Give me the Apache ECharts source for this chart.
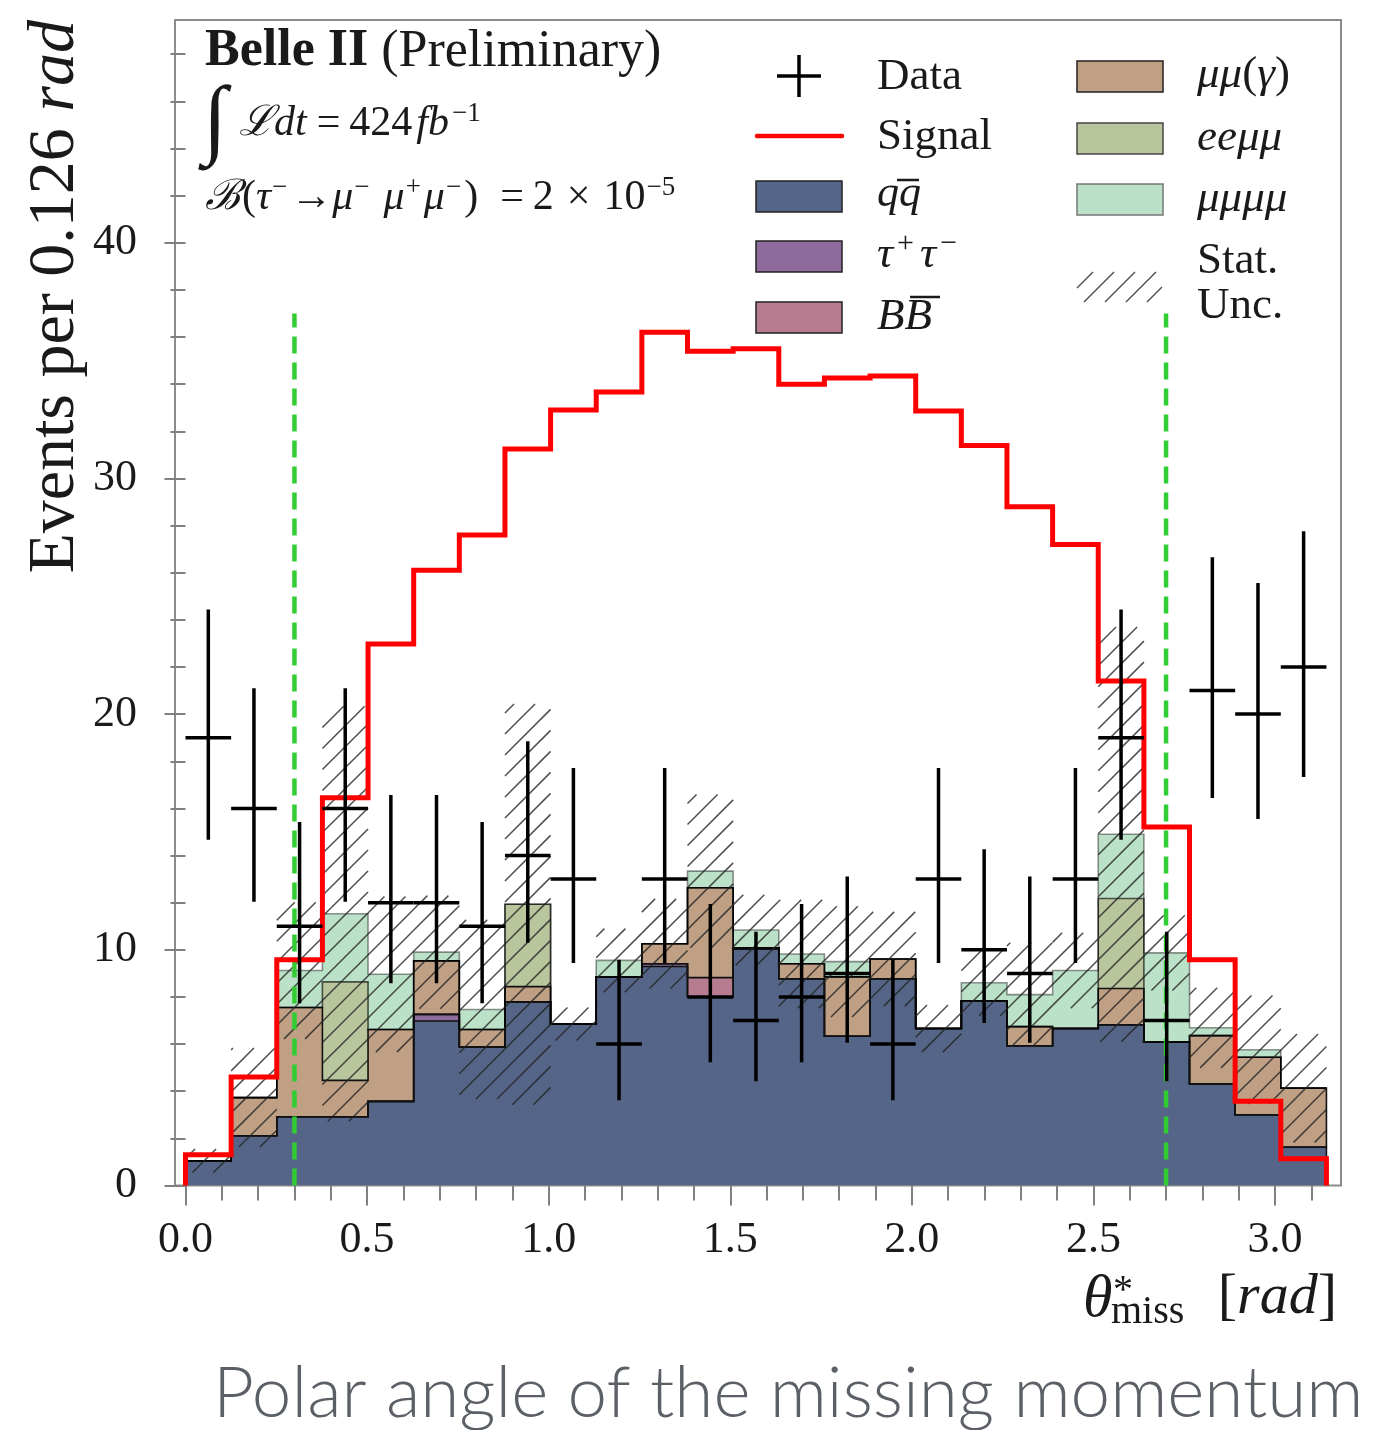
<!DOCTYPE html>
<html>
<head>
<meta charset="utf-8">
<script src="https://cdn.jsdelivr.net/npm/echarts@6/dist/echarts.min.js"></script>
<style>
  html, body { margin: 0; padding: 0; background: #ffffff; }
  #chart { width: 1373px; height: 1430px; }
</style>
</head>
<body>
<div id="chart"></div>
<script>
// ---- binning: 25 equal bins of theta*_miss over [0, pi] ----
const BIN_COUNT = 25;
const BIN_RANGE = [0, Math.PI];

// ---- stacked background expectations (events per bin) ----
const qqbar     = [1.05, 2.11, 2.92, 2.92, 3.57, 6.98, 5.88, 7.79, 6.85, 8.85, 9.29, 8.00, 10.03, 8.77, 6.33, 8.77, 6.66, 7.84, 5.93, 6.66, 6.82, 6.09, 4.30, 3.00, 1.62];
const tautau    = [0, 0, 0, 0, 0, 0.28, 0, 0, 0, 0, 0.12, 0, 0.06, 0, 0, 0, 0, 0, 0, 0, 0, 0, 0, 0, 0];
const bbbar     = [0, 0, 0, 0, 0, 0, 0, 0, 0, 0, 0, 0.82, 0, 0, 0, 0, 0, 0, 0, 0, 0, 0, 0, 0, 0];
const mumugamma = [0, 1.62, 4.63, 1.54, 3.05, 2.27, 0.74, 0.65, 0, 0, 0.85, 3.81, 0, 0.64, 2.52, 0.84, 0, 0, 0.81, 0, 1.54, 0, 2.06, 2.44, 2.51];
const eemumu    = [0, 0, 0, 4.18, 0, 0, 0, 3.49, 0, 0, 0, 0, 0, 0, 0, 0, 0, 0, 0, 0, 3.82, 0, 0, 0, 0];
const mumumumu  = [0, 0, 1.57, 2.89, 2.34, 0.37, 0.85, 0, 0, 0.70, 0, 0.71, 0.75, 0.41, 0.65, 0, 0, 0.76, 1.36, 2.46, 2.72, 3.78, 0.33, 0.32, 0];

// statistical uncertainty on the summed background
const statUnc   = [0.5, 2.1, 2.9, 8.8, 3.3, 2.4, 3.8, 8.5, 0.7, 1.35, 1.9, 3.25, 1.5, 2.3, 2.35, 2.0, 1.0, 1.4, 2.2, 1.6, 8.8, 1.6, 1.7, 2.3, 2.3];

// signal for B(tau -> 3mu) = 2e-5
const signal    = [1.30, 4.60, 9.58, 16.45, 22.97, 26.1, 27.6, 31.25, 32.9, 33.67, 36.2, 35.4, 35.5, 34.0, 34.26, 34.35, 32.86, 31.4, 28.8, 27.2, 21.4, 15.21, 9.58, 3.57, 1.13];

// observed data with asymmetric Poisson errors
const dataCounts  = [19, 16, 11, 16, 12, 12, 11, 14, 13, 6, 13, 8, 7, 8, 9, 6, 13, 10, 9, 13, 19, 7, 21, 20, 22];
const dataErrLow  = [4.33, 3.96, 3.27, 3.96, 3.42, 3.42, 3.27, 3.70, 3.56, 2.38, 3.56, 2.77, 2.58, 2.77, 2.94, 2.38, 3.56, 3.11, 2.94, 3.56, 4.33, 2.58, 4.56, 4.45, 4.67];
const dataErrHigh = [5.44, 5.10, 4.42, 5.10, 4.57, 4.57, 4.42, 4.85, 4.71, 3.58, 4.71, 3.94, 3.77, 3.94, 4.11, 3.58, 4.71, 4.27, 4.11, 4.71, 5.44, 3.77, 5.66, 5.56, 5.76];

// selection window on theta*_miss
const cutValues = [0.3, 2.7];
const cutTop = 37;

// ---- axis ticks ----
const xMajorTicks = [0, 0.5, 1.0, 1.5, 2.0, 2.5, 3.0];
const xTickLabels = ['0.0', '0.5', '1.0', '1.5', '2.0', '2.5', '3.0'];
const xMinorTicks = [0.1, 0.2, 0.3, 0.4, 0.6, 0.7, 0.8, 0.9, 1.1, 1.2, 1.3, 1.4, 1.6, 1.7, 1.8, 1.9, 2.1, 2.2, 2.3, 2.4, 2.6, 2.7, 2.8, 2.9, 3.1];
const yMajorTicks = [0, 10, 20, 30, 40];
const yTickLabels = ['0', '10', '20', '30', '40'];
const yMinorTicks = [2, 4, 6, 8, 12, 14, 16, 18, 22, 24, 26, 28, 32, 34, 36, 38, 42, 44, 46, 48];

const X_MIN = -0.0289, X_MAX = 3.1817;
const Y_MIN = 0, Y_MAX = 49.45;

const SERIF = "'Liberation Serif', 'DejaVu Serif', serif";
const COLORS = {
  qq: '#546587', tautau: '#8e6a9d', bb: '#b87c90',
  mumug: '#bfa084', eemumu: '#b9c69d', mumumumu: '#bbe2c8'
};

const binEdges = Array.from({ length: BIN_COUNT + 1 },
  (_, i) => BIN_RANGE[0] + i * (BIN_RANGE[1] - BIN_RANGE[0]) / BIN_COUNT);

// histogram values -> corner points of a step outline
function stepPts(values) {
  const pts = [];
  values.forEach((v, i) => { pts.push([binEdges[i], v]); pts.push([binEdges[i + 1], v]); });
  return pts;
}
// histogram values -> points for an ECharts step:'end' line
function stepData(values) {
  const pts = values.map((v, i) => [binEdges[i], v]);
  pts.push([binEdges[BIN_COUNT], values[BIN_COUNT - 1]]);
  return pts;
}

const components = [
  { name: 'qq', values: qqbar, color: COLORS.qq, edge: '#111111' },
  { name: 'tautau', values: tautau, color: COLORS.tautau, edge: '#111111' },
  { name: 'bb', values: bbbar, color: COLORS.bb, edge: '#111111' },
  { name: 'mumug', values: mumugamma, color: COLORS.mumug, edge: '#111111' },
  { name: 'eemumu', values: eemumu, color: COLORS.eemumu, edge: 'rgba(0,0,0,0.65)' },
  { name: 'mumumumu', values: mumumumu, color: COLORS.mumumumu, edge: 'rgba(0,0,0,0.42)' }
];

// cumulative lower / upper boundaries of every stacked component
let running = qqbar.map(() => 0);
components.forEach(c => {
  c.lower = running;
  c.upper = running.map((v, i) => v + c.values[i]);
  running = c.upper;
});
const totalBkg = running;

// 45-degree hatch lines (x + y = const in pixels) clipped to a box
const HATCH_GAP = 21;
function hatchSegments(x0, y0, x1, y1, gap) {
  const segs = [];
  const kStart = Math.ceil((x0 + y0) / gap), kEnd = Math.floor((x1 + y1) / gap);
  for (let k = kStart; k <= kEnd; k++) {
    const c = k * gap;
    const xs = Math.max(x0, c - y1), xe = Math.min(x1, c - y0);
    if (xe - xs > 0.5) segs.push([xs, c - xs, xe, c - xe]);
  }
  return segs;
}
const HATCH_STYLE = { stroke: 'rgba(35,35,35,0.8)', lineWidth: 1.5 };

const componentItems = components.map((c, k) => [BIN_RANGE[0], 0, k]);

// filled stacked areas
const stackFillSeries = {
  type: 'custom', name: 'stackFill', silent: true, z: 2, clip: true,
  data: componentItems, encode: { x: 0, y: 1 },
  renderItem(params, api) {
    const c = components[api.value(2)];
    const pts = stepPts(c.upper).concat(stepPts(c.lower).reverse()).map(p => api.coord(p));
    return { type: 'polygon', shape: { points: pts }, style: { fill: c.color, stroke: null } };
  }
};
// outlines of the stacked areas
const stackEdgeSeries = {
  type: 'custom', name: 'stackEdge', silent: true, z: 2.5, clip: true,
  data: componentItems, encode: { x: 0, y: 1 },
  renderItem(params, api) {
    const c = components[api.value(2)];
    const raw = [[binEdges[0], c.lower[0]]].concat(stepPts(c.upper),
      [[binEdges[BIN_COUNT], c.lower[BIN_COUNT - 1]]]);
    return {
      type: 'polyline', shape: { points: raw.map(p => api.coord(p)) },
      style: { stroke: c.edge, lineWidth: 1.6, fill: null, lineJoin: 'miter' }
    };
  }
};

const hatchSeries = {
  type: 'custom', name: 'statUnc', silent: true, z: 3, clip: true,
  data: statUnc.map((u, i) => [binEdges[i], binEdges[i + 1],
    Math.max(0, totalBkg[i] - u), totalBkg[i] + u]),
  encode: { x: [0, 1], y: [2, 3] },
  renderItem(params, api) {
    const a = api.coord([api.value(0), api.value(3)]);
    const b = api.coord([api.value(1), api.value(2)]);
    const segs = hatchSegments(a[0], a[1], b[0], b[1], HATCH_GAP);
    return {
      type: 'group',
      children: segs.map(s => ({
        type: 'line', shape: { x1: s[0], y1: s[1], x2: s[2], y2: s[3] },
        style: HATCH_STYLE
      }))
    };
  }
};

const signalSeries = {
  type: 'line', name: 'signal', step: 'end', symbol: 'none', silent: true, z: 5,
  data: [[BIN_RANGE[0], 0]].concat(stepData(signal), [[BIN_RANGE[1], 0]]),
  lineStyle: { color: '#ff0000', width: 5, join: 'miter' }
};

const cutSeries = cutValues.map(c => ({
  type: 'line', name: 'cut', symbol: 'none', silent: true, z: 4,
  data: [[c, 0], [c, cutTop]],
  lineStyle: { color: '#32cd32', width: 4.5, type: [17, 9] }
}));

const dataSeries = {
  type: 'custom', name: 'data', silent: true, z: 6, clip: true,
  data: dataCounts.map((n, i) => [binEdges[i], binEdges[i + 1], n,
    n - dataErrLow[i], n + dataErrHigh[i]]),
  encode: { x: [0, 1], y: [2, 3, 4] },
  renderItem(params, api) {
    const x0 = api.value(0), x1 = api.value(1), n = api.value(2);
    const xc = (x0 + x1) / 2;
    const pl = api.coord([x0, n]), pr = api.coord([x1, n]);
    const pb = api.coord([xc, api.value(3)]), pt = api.coord([xc, api.value(4)]);
    const st = { stroke: '#000000', lineWidth: 3.5 };
    return {
      type: 'group',
      children: [
        { type: 'line', shape: { x1: pl[0], y1: pl[1], x2: pr[0], y2: pr[1] }, style: st },
        { type: 'line', shape: { x1: pb[0], y1: pb[1], x2: pt[0], y2: pt[1] }, style: st }
      ]
    };
  }
};

// ---- text & legend drawn as graphic elements ----
const txt = (x, y, text, extra) => ({
  type: 'text', x: x, y: y, z: 50,
  style: Object.assign({ text: text, fontFamily: SERIF, fill: '#1a1a1a',
    align: 'left', verticalAlign: 'middle' }, extra || {})
});
const it = (size) => ({ fontFamily: SERIF, fontStyle: 'italic', fontSize: size });
const rm = (size) => ({ fontFamily: SERIF, fontSize: size });

const graphics = [];

// header
graphics.push(txt(205, 52, '{b|Belle II} (Preliminary)', {
  fontSize: 52, rich: { b: { fontFamily: SERIF, fontSize: 52, fontWeight: 'bold' } }
}));
graphics.push(txt(203, 124, '\u222B', { fontSize: 88, fontStyle: 'italic' }));
graphics.push(txt(239, 124,
  '{cal|\u2112}{it|dt}{eq|=}{rm|424}{it|fb}{sup|\u22121}', {
  fontSize: 42,
  rich: {
    cal: Object.assign(it(42), { lineHeight: 48 }),
    it: Object.assign(it(42), { lineHeight: 48 }),
    rm: Object.assign(rm(42), { lineHeight: 48, padding: [0, 4, 0, 0] }),
    eq: Object.assign(rm(42), { lineHeight: 48, padding: [0, 9, 0, 10] }),
    sup: Object.assign(rm(27), { verticalAlign: 'top', padding: [0, 0, 0, 3] })
  }
}));
graphics.push(txt(205, 198,
  '{cal|\u212C}{rm|(}{it|\u03C4}{sup|\u2212}{rm|\u2192}{it|\u03BC}{supw|\u2212}{it|\u03BC}{sup|+}{it|\u03BC}{sup|\u2212}{rm|)}{eq|=}{rm|2}{op|\u00D7}{rm|10}{sup|\u22125}', {
  fontSize: 42,
  rich: {
    cal: Object.assign(it(42), { lineHeight: 48, padding: [0, 2, 0, 0] }),
    it: Object.assign(it(42), { lineHeight: 48 }),
    rm: Object.assign(rm(42), { lineHeight: 48 }),
    eq: Object.assign(rm(42), { lineHeight: 48, padding: [0, 9, 0, 22] }),
    op: Object.assign(rm(42), { lineHeight: 48, padding: [0, 13, 0, 13] }),
    sup: Object.assign(rm(27), { verticalAlign: 'top', padding: [0, 3, 0, 1] }),
    supw: Object.assign(rm(27), { verticalAlign: 'top', padding: [0, 14, 0, 1] })
  }
}));

// legend, left column
graphics.push({ type: 'line', z: 50, shape: { x1: 777, y1: 76, x2: 821, y2: 76 }, style: { stroke: '#000', lineWidth: 3.5 } });
graphics.push({ type: 'line', z: 50, shape: { x1: 799, y1: 55, x2: 799, y2: 97 }, style: { stroke: '#000', lineWidth: 3.5 } });
graphics.push(txt(877, 77, 'Data', { fontSize: 45 }));
graphics.push({ type: 'line', z: 50, shape: { x1: 757, y1: 136, x2: 842, y2: 136 }, style: { stroke: '#ff0000', lineWidth: 4.5, lineCap: 'round' } });
graphics.push(txt(877, 137, 'Signal', { fontSize: 45 }));

const legendBox = (x, y, color, edge) => ({
  type: 'rect', z: 50, shape: { x: x, y: y, width: 86, height: 31 },
  style: { fill: color, stroke: edge || '#222', lineWidth: 1.5 }
});
graphics.push(legendBox(756, 181, COLORS.qq));
graphics.push(txt(877, 194, 'qq', it(44)));
graphics.push({ type: 'line', z: 51, shape: { x1: 897, y1: 180, x2: 919, y2: 180 }, style: { stroke: '#1a1a1a', lineWidth: 2.5 } });
graphics.push(legendBox(756, 241, COLORS.tautau));
graphics.push(txt(877, 255, '{it|\u03C4}{sup|+}{it|\u03C4}{sup|\u2212}', {
  fontSize: 45,
  rich: {
    it: Object.assign(it(45), { lineHeight: 52 }),
    sup: Object.assign(rm(30), { verticalAlign: 'top', padding: [0, 6, 0, 4] })
  }
}));
graphics.push(legendBox(756, 302, COLORS.bb));
graphics.push(txt(877, 317, 'BB', it(45)));
graphics.push({ type: 'line', z: 51, shape: { x1: 910, y1: 297, x2: 940, y2: 297 }, style: { stroke: '#1a1a1a', lineWidth: 2.5 } });

// legend, right column
graphics.push(legendBox(1077, 61, COLORS.mumug));
graphics.push(txt(1197, 75, '{it|\u03BC\u03BC}{rm|(}{it|\u03B3}{rm|)}', {
  fontSize: 45, rich: { it: it(45), rm: rm(45) }
}));
graphics.push(legendBox(1077, 123, COLORS.eemumu, '#444'));
graphics.push(txt(1197, 138, 'ee\u03BC\u03BC', it(45)));
graphics.push(legendBox(1077, 184, COLORS.mumumumu, '#777'));
graphics.push(txt(1197, 199, '\u03BC\u03BC\u03BC\u03BC', it(45)));
hatchSegments(1077, 272, 1162, 302, HATCH_GAP).forEach(s => graphics.push({
  type: 'line', z: 50, shape: { x1: s[0], y1: s[1], x2: s[2], y2: s[3] }, style: HATCH_STYLE
}));
graphics.push(txt(1197, 261, 'Stat.', { fontSize: 45 }));
graphics.push(txt(1197, 306, 'Unc.', { fontSize: 45 }));

// axis titles
graphics.push({
  type: 'text', x: 56, y: 20, rotation: Math.PI / 2, z: 50,
  style: {
    text: 'Events per 0.126 {it|rad}', fontFamily: SERIF, fontSize: 66, fill: '#1a1a1a',
    align: 'right', verticalAlign: 'middle', rich: { it: it(66) }
  }
});
graphics.push(txt(1083, 1300, '\u03B8', it(60)));
graphics.push(txt(1113, 1291, '*', rm(40)));
graphics.push(txt(1111, 1312, 'miss', rm(40)));
graphics.push(txt(1337, 1298, '[{it|rad}]', {
  fontSize: 58, align: 'right', rich: { it: it(58) }
}));

// caption under the plot
graphics.push({
  type: 'text', x: 213, y: 1394, z: 50,
  style: {
    text: 'Polar angle of the missing momentum', fontFamily: "'Lato', 'Inter', sans-serif",
    fontWeight: 300, fontSize: 71, fill: '#5b5f66', align: 'left', verticalAlign: 'middle'
  }
});

const tickLine = { color: '#808080', width: 2 };

const option = {
  animation: false,
  backgroundColor: '#ffffff',
  grid: {
    left: 175, right: 32, top: 20, bottom: 244.5,
    show: true, borderColor: '#8c8c8c', borderWidth: 2, backgroundColor: '#ffffff',
    outerBoundsMode: 'none'
  },
  xAxis: [
    {
      type: 'value', min: X_MIN, max: X_MAX, position: 'bottom',
      axisLine: { show: false }, splitLine: { show: false },
      axisTick: { show: true, customValues: xMajorTicks, length: 20, lineStyle: tickLine },
      axisLabel: {
        show: true, customValues: xMajorTicks, margin: 33,
        formatter: v => xTickLabels[xMajorTicks.findIndex(t => Math.abs(t - v) < 1e-9)],
        fontFamily: SERIF, fontSize: 44, color: '#1a1a1a'
      }
    },
    {
      type: 'value', min: X_MIN, max: X_MAX, position: 'bottom',
      axisLine: { show: false }, splitLine: { show: false },
      axisTick: { show: true, customValues: xMinorTicks, length: 15, lineStyle: tickLine },
      axisLabel: { show: false }
    }
  ],
  yAxis: [
    {
      type: 'value', min: Y_MIN, max: Y_MAX, position: 'left',
      axisLine: { show: false }, splitLine: { show: false },
      axisTick: { show: true, customValues: yMajorTicks, length: 21, lineStyle: tickLine },
      axisLabel: {
        show: true, customValues: yMajorTicks, margin: 38,
        formatter: v => yTickLabels[yMajorTicks.indexOf(v)],
        fontFamily: SERIF, fontSize: 44, color: '#1a1a1a'
      }
    },
    {
      type: 'value', min: Y_MIN, max: Y_MAX, position: 'left',
      axisLine: { show: false }, splitLine: { show: false },
      axisTick: { show: true, customValues: yMinorTicks, length: 15, lineStyle: tickLine },
      axisLabel: { show: false }
    }
  ],
  series: [stackFillSeries, stackEdgeSeries, hatchSeries].concat(cutSeries, [signalSeries, dataSeries]),
  graphic: graphics
};

const chart = echarts.init(document.getElementById('chart'), null, { renderer: 'canvas' });
chart.setOption(option);
</script>
</body>
</html>
